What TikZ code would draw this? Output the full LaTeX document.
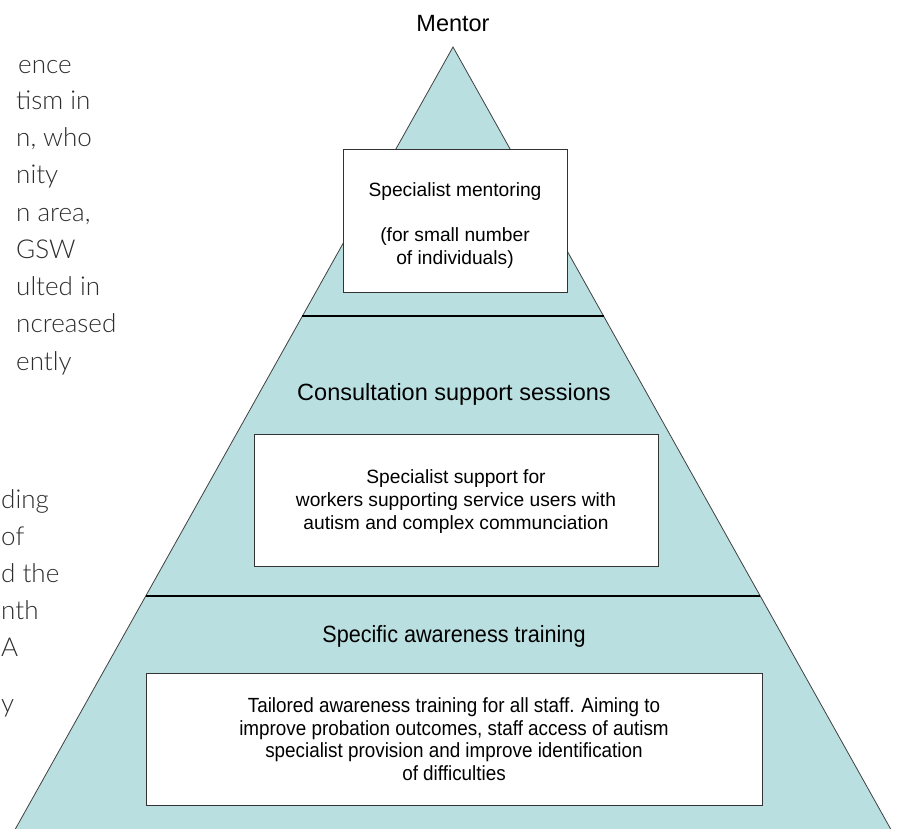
\documentclass[tikz,border=0pt]{standalone}
\usepackage{fontspec}
\setmainfont{Liberation Sans}
\newfontfamily\narrowfont{Liberation Sans}[FakeStretch=0.92]
\IfFontExistsTF{Lato Light}{\newfontfamily\bodyfont{Lato Light}}{\newfontfamily\bodyfont{Lato}}
\usetikzlibrary{calc}

\definecolor{pyramidblue}{RGB}{186,223,225}
\definecolor{bodygrey}{RGB}{45,45,45}

\tikzset{
  tier/.style={font=\fontsize{23.5}{27}\selectfont},
  infobox/.style={draw=black!80, line width=0.9pt, fill=white, inner sep=0pt},
  infotext/.style={align=center, inner sep=0pt, font=\fontsize{19.2}{22.8}\selectfont},
  divider/.style={line width=1.8pt, black},
  frag/.style={anchor=base west, inner sep=0pt, text=bodygrey,
    font=\bodyfont\fontsize{26}{30}\selectfont}
}

\begin{document}
\begin{tikzpicture}[x=1pt, y=-1pt]
  \useasboundingbox (0,0) rectangle (900,829);
  \clip (0,0) rectangle (900,829);

  % Pyramid outline
  \coordinate (apex) at (453,47);
  \coordinate (baseL) at (-2,860);
  \coordinate (baseR) at (908,860);
  \filldraw[fill=pyramidblue, draw=black!75, line width=0.8pt]
    (apex) -- (baseR) -- (baseL) -- cycle;

  % Tier dividers
  \draw[divider] ($(apex)!0.3309!(baseL)$) -- ($(apex)!0.3309!(baseR)$);
  \draw[divider] ($(apex)!0.6753!(baseL)$) -- ($(apex)!0.6753!(baseR)$);

  % Top tier
  \node[tier] (mentor) at (453,24) {Mentor};
  \node[infobox, minimum width=224pt, minimum height=143pt] (mentoring) at (455,220.5) {};
  \node[infotext] (mentoringtxt) at (455,225.5)
    {Specialist mentoring\\[22.8pt](for small number\\of individuals)};

  % Middle tier
  \node[tier] (consult) at (454,394) {Consultation support sessions};
  \node[infobox, minimum width=404pt, minimum height=132pt] (support) at (456,500) {};
  \node[infotext] (supporttxt) at (456,501.5)
    {Specialist support for\\workers supporting service users with\\autism and complex communciation};

  % Bottom tier
  \node[tier, font=\narrowfont\fontsize{23.5}{27}\selectfont] (aware) at (454,636)
    {Specific awareness training};
  \node[infobox, minimum width=616pt, minimum height=132pt] (tailored) at (454,739) {};
  \node[infotext, font=\narrowfont\fontsize{20.5}{22.6}\selectfont] (tailoredtxt) at (454,739)
    {Tailored awareness training for all staff. Aiming to\\
     improve probation outcomes, staff access of autism\\
     specialist provision and improve identification\\
     of difficulties};

  % Cut-off body text on the left
  \node[frag] (l1) at (18,74) {ence};
  \node[frag] (l2) at (16,110) {tism in};
  \node[frag] (l3) at (16,147) {n, who};
  \node[frag] (l4) at (16,184) {nity};
  \node[frag] (l5) at (16,222) {n area,};
  \node[frag] (l6) at (16,259) {GSW};
  \node[frag] (l7) at (16,295) {ulted in};
  \node[frag] (l8) at (16,332) {ncreased};
  \node[frag] (l9) at (16,370) {ently};
  \node[frag] (l10) at (1,508) {ding};
  \node[frag] (l11) at (1,545) {of};
  \node[frag] (l12) at (1,582) {d the};
  \node[frag] (l13) at (1,619) {nth};
  \node[frag] (l14) at (1,656) {A};
  \node[frag] (l15) at (1,712) {y};
\end{tikzpicture}
\end{document}
